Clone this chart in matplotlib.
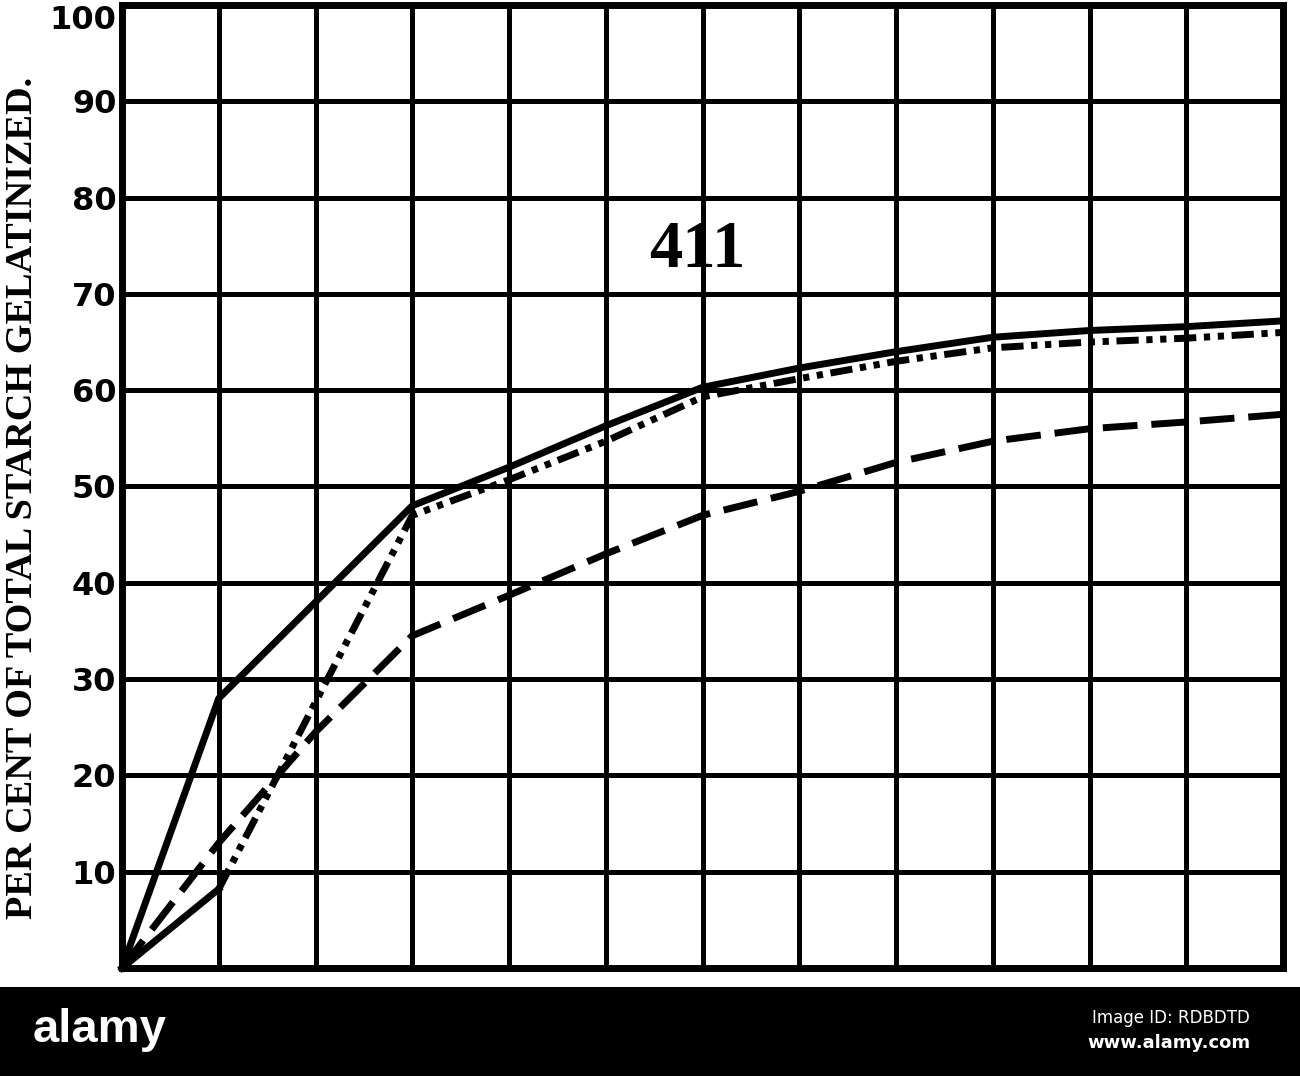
import matplotlib
matplotlib.use("Agg")
import matplotlib.pyplot as plt
from matplotlib.patches import Rectangle

# ---- data ----
x_cols = [0, 1, 2, 3, 4, 5, 6, 7, 8, 9, 10, 11, 12]
solid_vals = [0, 28, 38, 48, 52, 56.3, 60.3, 62.3, 64, 65.5, 66.2, 66.6, 67.2]
dashed_vals = [0, 13, 24.5, 34.5, 38.7, 43, 47, 49.5, 52.5, 54.7, 56, 56.7, 57.5]
dashdot_x = [0, 1, 3, 4, 5, 6, 7, 8, 9, 10, 11, 12]
dashdot_vals = [0, 8.2, 47, 50.7, 54.7, 59.3, 61.2, 63, 64.4, 65, 65.4, 66]
y_ticks = [10, 20, 30, 40, 50, 60, 70, 80, 90, 100]
y_tick_labels = ["10", "20", "30", "40", "50", "60", "70", "80", "90", "100"]
y_label = "PER CENT OF TOTAL STARCH GELATINIZED."
chart_label = "411"

W, H = 1300, 1076
fig = plt.figure(figsize=(W / 100, H / 100), dpi=100)
fig.patch.set_facecolor("white")

left, right = 122 / W, 1283 / W
top, bottom = 1 - 5 / H, 1 - 968 / H
ax = fig.add_axes([left, bottom, right - left, top - bottom])
ax.set_xlim(0, 12)
ax.set_ylim(0, 100)

# grid
ax.set_xticks(range(1, 12))
ax.set_xticklabels([])
ax.set_yticks(y_ticks)
ax.set_yticklabels(y_tick_labels, fontsize=23, fontweight="bold",
                   family="DejaVu Sans")
ax.get_yticklabels()[-1].set_verticalalignment("top")
ax.tick_params(axis="both", length=0, pad=4)
ax.grid(True, color="black", linewidth=3.6)
ax.set_axisbelow(True)
for s in ax.spines.values():
    s.set_linewidth(5)
    s.set_color("black")

# curves
ax.plot(x_cols, solid_vals, color="black", lw=5, solid_joinstyle="round",
        clip_on=False, zorder=5)
ax.plot(x_cols, dashed_vals, color="black", lw=5, dashes=(5, 2.0),
        clip_on=False, zorder=5)
ax.plot(dashdot_x[:2], dashdot_vals[:2], color="black", lw=5,
        clip_on=False, zorder=5)
ax.plot(dashdot_x[1:], dashdot_vals[1:], color="black", lw=5,
        dashes=(3.2, 1.1, 0.9, 1.1, 0.9, 1.1), clip_on=False, zorder=5)

ax.text(5.95, 74.5, chart_label, fontsize=48, fontweight="bold",
        family="Liberation Serif", ha="center", va="center", zorder=6)

fig.text(23 / W, 1 - 498 / H, y_label, rotation=90, fontsize=27.5,
         fontweight="bold", family="Liberation Serif",
         ha="center", va="center")

# bottom band of the scanned image
band_h = (H - 987) / H
fig.patches.append(Rectangle((0, 0), 1, band_h, transform=fig.transFigure,
                             facecolor="black", edgecolor="none", zorder=0))
fig.text(100 / W, 1 - 1030 / H, "alamy", color="white", fontsize=34,
         fontweight="bold", family="Liberation Sans", ha="center", va="center")
fig.text(1250 / W, 1 - 1018 / H, "Image ID: RDBDTD", color="white",
         fontsize=12, family="DejaVu Sans", ha="right", va="center")
fig.text(1250 / W, 1 - 1043 / H, "www.alamy.com", color="white",
         fontsize=13, fontweight="bold", family="DejaVu Sans",
         ha="right", va="center")

fig.savefig("out.png", dpi=100, facecolor="white")
